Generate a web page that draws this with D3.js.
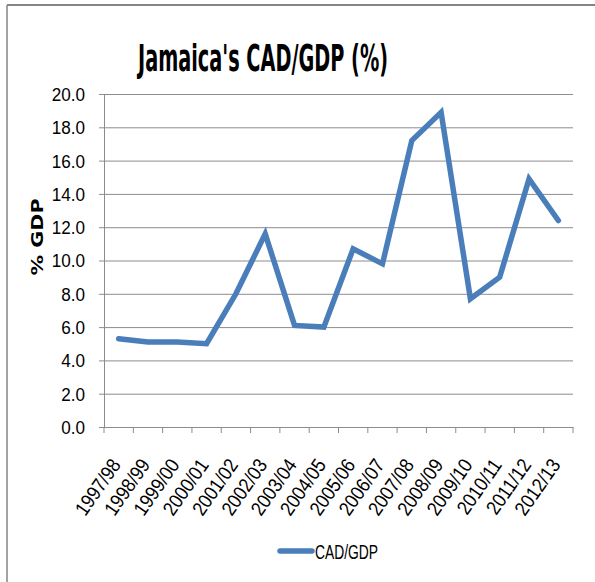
<!DOCTYPE html>
<html>
<head>
<meta charset="utf-8">
<script src="https://cdn.jsdelivr.net/npm/d3@7"></script>
<style>
  body { margin:0; background:#fff; }
  text { font-family: "Liberation Sans", Arial, sans-serif; }
</style>
</head>
<body>
<div id="content"></div>
<script>
// values
const years = ["1997/98","1998/99","1999/00","2000/01","2001/02","2002/03","2003/04","2004/05",
               "2005/06","2006/07","2007/08","2008/09","2009/10","2010/11","2011/12","2012/13"];
const cadGdp = [5.3, 5.1, 5.1, 5.0, 8.0, 11.6, 6.1, 6.0, 10.7, 9.8, 17.2, 18.9, 7.7, 9.0, 14.9, 12.4];
const yTicks = [0, 2, 4, 6, 8, 10, 12, 14, 16, 18, 20];

const W = 595, H = 582;
const margin = { left:104, right:22, top:94, bottom:155 };
const iW = W - margin.left - margin.right;
const iH = H - margin.top - margin.bottom;
const blue = "#4a7ebb", grid = "#8c8c8c";

// the picture's text is squeezed sideways, so shrink each text's width
const squeeze = (sel, f) => sel.each(function(){
    const w = this.getComputedTextLength();
    d3.select(this).attr("textLength", w*f).attr("lengthAdjust","spacingAndGlyphs");
});

const svg = d3.select("#content").append("svg")
    .attr("width", W).attr("height", H);

// chart frame (only top + left edge visible in the picture)
svg.append("line").attr("x1",7).attr("x2",W).attr("y1",5).attr("y2",5)
    .attr("stroke","#858585").attr("stroke-width",2);
svg.append("line").attr("x1",7).attr("x2",7).attr("y1",5).attr("y2",H)
    .attr("stroke","#858585").attr("stroke-width",1.5);

svg.append("text")
    .attr("x", 263).attr("y", 71)
    .attr("text-anchor","middle")
    .style("font-family","'DejaVu Sans Condensed', sans-serif")
    .attr("font-size", 38).attr("font-weight","bold")
    .attr("textLength", 250).attr("lengthAdjust","spacingAndGlyphs")
    .text("Jamaica's CAD/GDP (%)");

const x = d3.scaleBand().domain(years).range([0, iW]);
const y = d3.scaleLinear().domain([0, 20]).range([iH, 0]);

const g = svg.append("g")
    .attr("transform","translate("+margin.left+","+margin.top+")");

// y axis with gridlines
const yAxis = g.append("g")
    .call(d3.axisLeft(y).tickValues(yTicks).tickFormat(d3.format(".1f"))
        .tickSize(-iW).tickSizeOuter(0).tickPadding(0));
yAxis.select(".domain").attr("stroke", grid);
yAxis.selectAll(".tick line").attr("stroke", grid).attr("x1", -5);
yAxis.selectAll(".tick text")
    .attr("x", -19).attr("dy","0.36em")
    .attr("font-size", 18).attr("fill","#000")
    .call(squeeze, 0.95);

// x axis
const xAxis = g.append("g")
    .attr("transform","translate(0,"+iH+")")
    .call(d3.axisBottom(x).tickSize(0).tickSizeOuter(0));
xAxis.select(".domain").attr("stroke", grid);
xAxis.selectAll(".tick text")
    .attr("font-size", 20).attr("fill","#000")
    .attr("text-anchor","end")
    .attr("transform","translate(3,38) rotate(-55)")
    .attr("y", 0).attr("dy", 0)
    .call(squeeze, 0.88);

// tick marks between categories
g.append("g").selectAll("line")
    .data(years.concat(["__end"]))
    .enter().append("line")
    .attr("x1", (d,i)=> i*x.step()).attr("x2", (d,i)=> i*x.step())
    .attr("y1", iH).attr("y2", iH+6)
    .attr("stroke", grid);

// y title
svg.append("text")
    .attr("transform","translate(43,237) rotate(-90)")
    .attr("text-anchor","middle")
    .style("font-family","'DejaVu Sans', sans-serif")
    .attr("font-size", 16).attr("font-weight","bold")
    .attr("textLength", 77).attr("lengthAdjust","spacingAndGlyphs")
    .text("% GDP");

// series
const line = d3.line()
    .x((d,i)=> x(years[i]) + x.bandwidth()/2)
    .y(d=> y(d));
g.append("path")
    .datum(cadGdp)
    .attr("d", line)
    .attr("fill","none")
    .attr("stroke", blue)
    .attr("stroke-width", 5.5)
    .attr("stroke-linecap","round");

// legend
svg.append("line")
    .attr("x1", 280).attr("x2", 312).attr("y1", 551).attr("y2", 551)
    .attr("stroke", blue).attr("stroke-width", 5.5).attr("stroke-linecap","round");
svg.append("text")
    .attr("x", 315).attr("y", 559)
    .attr("font-size", 20)
    .attr("textLength", 63).attr("lengthAdjust","spacingAndGlyphs")
    .text("CAD/GDP");
</script>
</body>
</html>
